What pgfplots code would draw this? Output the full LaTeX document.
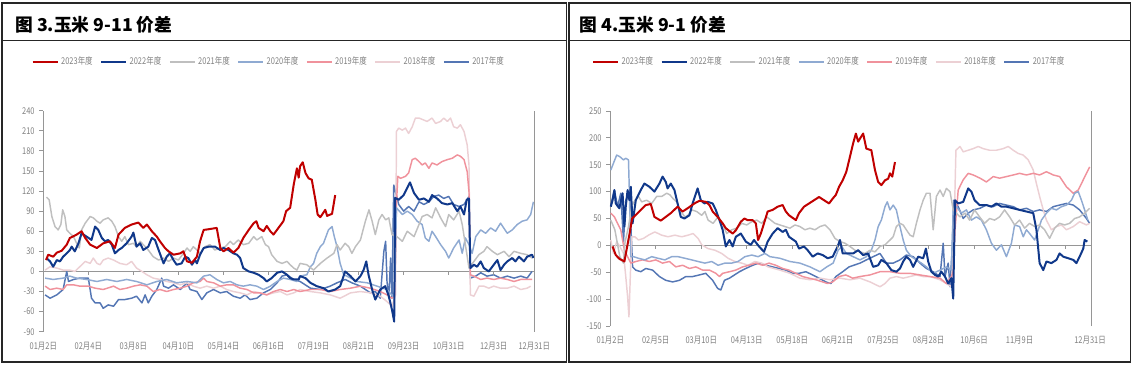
\documentclass[border=0pt]{standalone}
\usepackage{pgfplots}
\pgfplotsset{compat=1.18}
\usepackage{fontspec}
\setmainfont{Noto Sans CJK SC}
\newfontfamily\tickfont{Noto Sans CJK SC}[FakeStretch=0.8]
\definecolor{c23}{RGB}{192,0,0}
\definecolor{c22}{RGB}{16,56,138}
\definecolor{c21}{RGB}{191,191,191}
\definecolor{c20}{RGB}{143,170,210}
\definecolor{c19}{RGB}{240,146,156}
\definecolor{c18}{RGB}{236,208,212}
\definecolor{c17}{RGB}{84,118,180}
\definecolor{axgray}{RGB}{150,150,150}
\definecolor{txtgray}{RGB}{128,128,128}
\pgfplotsset{
  s23/.style={color=c23, line width=1.5pt, line join=round},
  s22/.style={color=c22, line width=1.5pt, line join=round},
  s21/.style={color=c21, line width=1.1pt, line join=round},
  s20/.style={color=c20, line width=1.1pt, line join=round},
  s19/.style={color=c19, line width=1.1pt, line join=round},
  s18/.style={color=c18, line width=1.1pt, line join=round},
  s17/.style={color=c17, line width=1.1pt, line join=round},
  panel/.style={
    anchor=south west, scale only axis,
    axis x line*=bottom, axis y line*=left,
    x axis line style={draw=none}, xtick style={draw=none},
    y axis line style={axgray, line width=0.6pt},
    ytick style={axgray, line width=0.6pt},
    tick align=outside, major tick length=3pt,
    /pgf/number format/assume math mode=true,
    tick label style={font=\tickfont\fontsize{7pt}{8pt}\selectfont, text=txtgray},
    xticklabel style={anchor=center, yshift=-8pt},
    extra y ticks={0}, extra y tick labels={},
    extra y tick style={grid=major, major grid style={axgray, line width=0.7pt}},
    legend columns=7, reverse legend,
    legend style={draw=none, fill=none, font=\tickfont\fontsize{7pt}{8pt}\selectfont, text=txtgray,
      anchor=center, /tikz/every even column/.append style={column sep=3.8pt},
      nodes={inner sep=1.5pt}},
    legend image code/.code={\draw[#1, line width=2.2pt] (0pt,0pt) -- (18.75pt,0pt);},
    clip=false,
  },
}
\begin{document}
\begin{tikzpicture}[x=0.75pt, y=0.75pt]
\useasboundingbox (0,0) rectangle (1133,365);
% frames
\draw[line width=1pt, black!85] (2,3) rectangle (566.5,362);
\draw[line width=1pt, black!85] (2,324.3) -- (566.5,324.3);
\draw[line width=1pt, black!85] (569,3) rectangle (1130.5,362);
\draw[line width=1pt, black!85] (569,324.3) -- (1130.5,324.3);
\node[anchor=west, font=\bfseries\fontsize{13.3pt}{15pt}\selectfont, inner sep=0pt] at (15,340) {图 3.玉米 9-11 价差};
\node[anchor=west, font=\bfseries\fontsize{13.3pt}{15pt}\selectfont, inner sep=0pt] at (579.5,340) {图 4.玉米 9-1 价差};

% ================= LEFT =================
\begin{axis}[panel,
  at={(32.475pt,24.975pt)}, width=368.25pt, height=165.75pt,
  xmin=0, xmax=10.9, ymin=-90, ymax=240,
  ytick={-90,-60,...,240},
  xtick={0,1,2,3,4,5,6,7,8,9,10,10.9},
  xticklabels={01月2日,02月4日,03月8日,04月10日,05月14日,06月16日,07月19日,08月21日,09月23日,10月31日,12月3日,12月31日},
  legend style={at={(0.4587,1.2204)}},
]
\addplot[s17] coordinates {(0.04,-35)(0.15,-40)(0.30,-35)(0.44,-27)(0.52,0)(0.56,-15)(0.67,-12)(0.81,-10)(1.00,-10)(1.07,-40)(1.15,-47)(1.26,-47)(1.33,-55)(1.44,-50)(1.56,-52)(1.67,-42)(1.81,-42)(1.96,-40)(2.07,-37)(2.19,-47)(2.26,-35)(2.33,-47)(2.41,-37)(2.52,-27)(2.63,-10)(2.67,-22)(2.78,-25)(2.89,-20)(3.04,-27)(3.19,-17)(3.26,-27)(3.41,-30)(3.52,-42)(3.63,-32)(3.78,-27)(3.93,-32)(4.07,-30)(4.22,-37)(4.37,-40)(4.48,-35)(4.59,-42)(4.74,-40)(4.89,-32)(5.04,-27)(5.19,-17)(5.30,-7)(5.41,-5)(5.56,-12)(5.70,-15)(5.93,-25)(6.15,-27)(6.37,-22)(6.52,-17)(6.70,-12)(6.85,-17)(7.04,-22)(7.15,-27)(7.26,-32)(7.37,-30)(7.48,-40)(7.56,30)(7.60,45)(7.63,-15)(7.67,-40)(7.71,20)(7.74,-40)(7.78,129)(7.89,100)(8.00,90)(8.11,97)(8.23,90)(8.34,104)(8.45,100)(8.56,104)(8.67,112)(8.78,114)(8.89,109)(9.00,112)(9.11,100)(9.23,97)(9.34,100)(9.45,112)(9.48,-10)(9.60,-7)(9.71,-2)(9.85,-7)(10.00,-5)(10.15,-10)(10.30,-7)(10.45,-10)(10.60,-7)(10.74,-10)(10.85,0)};
\addlegendentry{2017年度}
\addplot[s18] coordinates {(0.04,2)(0.15,7)(0.30,5)(0.44,2)(0.59,2)(0.70,0)(0.81,7)(0.93,15)(1.04,12)(1.11,20)(1.19,12)(1.26,10)(1.33,17)(1.44,20)(1.56,17)(1.70,12)(1.85,10)(1.96,15)(2.07,5)(2.19,0)(2.30,-5)(2.44,-10)(2.59,-12)(2.74,-15)(2.89,-17)(3.04,-20)(3.19,-17)(3.33,-22)(3.48,-25)(3.63,-22)(3.78,-25)(3.93,-22)(4.07,-27)(4.22,-30)(4.37,-32)(4.52,-35)(4.67,-30)(4.81,-32)(4.96,-35)(5.11,-32)(5.26,-30)(5.41,-35)(5.56,-32)(5.70,-27)(5.93,-30)(6.15,-32)(6.37,-35)(6.59,-40)(6.82,-32)(7.04,-30)(7.26,-32)(7.48,-37)(7.63,-45)(7.74,-52)(7.82,-35)(7.84,209)(7.89,214)(7.97,211)(8.04,214)(8.11,206)(8.19,216)(8.26,229)(8.34,229)(8.45,226)(8.52,224)(8.63,229)(8.71,221)(8.82,224)(8.89,229)(8.97,224)(9.04,229)(9.11,216)(9.19,214)(9.26,219)(9.34,209)(9.41,189)(9.45,159)(9.48,-35)(9.56,-37)(9.67,-22)(9.78,-22)(9.89,-25)(10.00,-22)(10.15,-25)(10.30,-25)(10.45,-22)(10.60,-27)(10.74,-25)(10.82,-22)};
\addlegendentry{2018年度}
\addplot[s19] coordinates {(0.04,-22)(0.15,-27)(0.30,-25)(0.44,-27)(0.52,-20)(0.67,-20)(0.81,-22)(1.00,-22)(1.15,-25)(1.33,-27)(1.56,-22)(1.70,-27)(1.85,-25)(2.00,-22)(2.15,-20)(2.30,-22)(2.44,-30)(2.59,-27)(2.74,-30)(2.89,-27)(3.04,-25)(3.19,-22)(3.33,-17)(3.48,-15)(3.56,-10)(3.63,-15)(3.78,-17)(3.93,-22)(4.07,-20)(4.22,-20)(4.37,-25)(4.52,-27)(4.67,-32)(4.81,-32)(4.96,-35)(5.11,-30)(5.26,-27)(5.41,-30)(5.56,-27)(5.70,-30)(5.93,-27)(6.15,-27)(6.37,-30)(6.59,-27)(6.82,-25)(7.04,-22)(7.26,-25)(7.48,-30)(7.63,-35)(7.74,-40)(7.80,-35)(7.84,100)(7.87,142)(7.93,139)(8.04,142)(8.11,147)(8.19,167)(8.26,169)(8.34,164)(8.41,159)(8.48,162)(8.56,154)(8.63,162)(8.74,159)(8.85,164)(8.97,167)(9.08,169)(9.19,174)(9.26,172)(9.34,167)(9.41,149)(9.45,119)(9.48,-5)(9.56,-7)(9.71,-12)(9.85,-10)(10.00,-12)(10.15,-10)(10.30,-12)(10.45,-15)(10.60,-12)(10.74,-12)(10.85,-12)};
\addlegendentry{2019年度}
\addplot[s20] coordinates {(0.04,-10)(0.22,-12)(0.44,-10)(0.59,-7)(0.74,-10)(0.96,-12)(1.19,-15)(1.41,-12)(1.63,-15)(1.85,-12)(2.07,-15)(2.30,-20)(2.52,-15)(2.74,-12)(2.96,-17)(3.19,-15)(3.41,-17)(3.56,-7)(3.70,-5)(3.85,-12)(4.00,-17)(4.15,-15)(4.30,-20)(4.44,-22)(4.59,-20)(4.74,-22)(4.89,-27)(5.04,-22)(5.19,-15)(5.33,-10)(5.48,-12)(5.63,-15)(5.70,-7)(5.85,-5)(5.93,7)(6.00,12)(6.07,27)(6.15,37)(6.22,42)(6.33,62)(6.41,67)(6.46,52)(6.52,37)(6.59,12)(6.67,-5)(6.74,-7)(6.96,-15)(7.19,-17)(7.41,-22)(7.63,-27)(7.76,-37)(7.80,-30)(7.84,95)(7.97,85)(8.08,90)(8.19,85)(8.30,75)(8.41,70)(8.48,50)(8.56,45)(8.63,60)(8.71,52)(8.82,40)(8.93,30)(9.00,20)(9.11,35)(9.23,47)(9.30,27)(9.37,50)(9.45,40)(9.52,27)(9.60,52)(9.71,62)(9.82,57)(9.93,65)(10.04,60)(10.15,72)(10.30,57)(10.41,62)(10.52,70)(10.63,75)(10.74,77)(10.82,85)(10.88,104)};
\addlegendentry{2020年度}
\addplot[s21] coordinates {(0.07,111)(0.13,107)(0.19,82)(0.26,67)(0.33,62)(0.39,70)(0.43,92)(0.48,82)(0.52,62)(0.59,57)(0.67,52)(0.74,42)(0.80,35)(0.85,62)(0.93,72)(1.04,82)(1.11,80)(1.19,75)(1.26,72)(1.33,77)(1.44,80)(1.52,75)(1.59,67)(1.67,52)(1.74,45)(1.81,52)(1.89,40)(2.00,42)(2.07,37)(2.15,45)(2.22,40)(2.33,32)(2.44,22)(2.56,17)(2.67,20)(2.78,15)(2.89,20)(3.00,17)(3.11,27)(3.19,35)(3.26,30)(3.33,37)(3.41,32)(3.48,27)(3.59,37)(3.70,40)(3.81,32)(3.93,35)(4.04,37)(4.15,45)(4.22,40)(4.33,47)(4.44,40)(4.56,42)(4.67,52)(4.74,47)(4.85,52)(4.93,40)(5.00,37)(5.07,25)(5.19,15)(5.30,12)(5.41,15)(5.48,10)(5.56,5)(5.63,2)(5.70,12)(5.85,10)(6.00,2)(6.15,12)(6.30,20)(6.45,27)(6.52,40)(6.59,32)(6.70,42)(6.78,37)(6.85,27)(6.93,37)(7.04,47)(7.15,75)(7.23,92)(7.30,75)(7.37,55)(7.45,77)(7.52,85)(7.60,77)(7.67,80)(7.74,55)(7.85,52)(7.97,45)(8.08,60)(8.23,52)(8.34,70)(8.41,82)(8.52,85)(8.63,80)(8.71,95)(8.82,80)(8.93,67)(9.00,85)(9.11,77)(9.23,90)(9.30,70)(9.37,40)(9.45,5)(9.56,15)(9.67,25)(9.78,30)(9.85,37)(9.97,30)(10.08,25)(10.23,30)(10.34,22)(10.45,30)(10.60,27)(10.74,25)(10.85,20)};
\addlegendentry{2021年度}
\addplot[s22] coordinates {(0.07,20)(0.15,15)(0.22,7)(0.30,17)(0.37,15)(0.44,22)(0.52,27)(0.59,32)(0.63,37)(0.70,30)(0.78,42)(0.85,57)(0.96,52)(1.07,47)(1.15,67)(1.22,62)(1.30,50)(1.37,45)(1.44,47)(1.52,40)(1.59,27)(1.67,32)(1.74,35)(1.85,42)(1.96,52)(2.00,58)(2.07,37)(2.15,42)(2.22,32)(2.33,37)(2.41,50)(2.48,47)(2.56,32)(2.67,12)(2.74,22)(2.81,27)(2.89,17)(2.96,10)(3.07,12)(3.15,22)(3.22,20)(3.30,10)(3.37,17)(3.41,12)(3.48,25)(3.56,35)(3.67,37)(3.81,37)(3.93,32)(4.00,35)(4.11,32)(4.22,27)(4.30,25)(4.37,20)(4.44,5)(4.56,0)(4.67,-2)(4.78,-5)(4.89,-10)(4.96,-15)(5.07,-10)(5.19,-2)(5.30,0)(5.41,-5)(5.48,-10)(5.56,-12)(5.67,-12)(5.70,-7)(5.82,-10)(5.93,-17)(6.07,-22)(6.22,-25)(6.33,-30)(6.48,-27)(6.59,-22)(6.70,0)(6.82,-7)(6.93,-15)(7.04,-7)(7.11,2)(7.17,15)(7.22,-5)(7.30,-27)(7.37,-42)(7.48,-27)(7.59,-22)(7.67,-37)(7.74,-57)(7.79,-75)(7.81,110)(7.89,107)(8.00,114)(8.14,133)(8.23,117)(8.34,107)(8.45,109)(8.56,104)(8.63,114)(8.74,109)(8.85,102)(8.97,100)(9.08,102)(9.19,90)(9.26,97)(9.34,85)(9.40,107)(9.45,109)(9.48,5)(9.56,10)(9.63,7)(9.71,15)(9.78,5)(9.89,0)(10.00,10)(10.08,17)(10.15,2)(10.23,10)(10.30,15)(10.41,20)(10.48,15)(10.56,22)(10.67,15)(10.74,22)(10.85,25)(10.88,20)};
\addlegendentry{2022年度}
\addplot[s23] coordinates {(0.06,17)(0.11,25)(0.22,22)(0.30,28)(0.41,31)(0.52,40)(0.59,50)(0.74,55)(0.85,60)(0.93,50)(1.04,40)(1.19,35)(1.33,42)(1.48,45)(1.59,35)(1.67,55)(1.81,65)(1.96,70)(2.11,73)(2.22,65)(2.30,70)(2.41,60)(2.52,52)(2.59,45)(2.70,35)(2.78,30)(2.89,25)(3.04,27)(3.11,30)(3.19,15)(3.30,13)(3.41,22)(3.48,45)(3.56,62)(3.67,63)(3.85,65)(3.93,35)(4.00,30)(4.11,35)(4.22,28)(4.33,35)(4.44,50)(4.56,62)(4.67,72)(4.73,75)(4.78,65)(4.89,60)(4.96,68)(5.04,60)(5.11,55)(5.22,65)(5.33,75)(5.39,90)(5.48,95)(5.56,130)(5.63,154)(5.67,140)(5.70,157)(5.76,163)(5.82,147)(5.89,139)(5.96,137)(6.04,107)(6.09,85)(6.15,81)(6.26,92)(6.30,83)(6.41,86)(6.48,114)};
\addlegendentry{2023年度}
\draw[axgray, line width=0.6pt] (rel axis cs:1,0) -- (rel axis cs:1,1);
\draw[axgray, line width=0.6pt] (axis cs:1,0) -- ++(0pt,-3pt);
\draw[axgray, line width=0.6pt] (axis cs:2,0) -- ++(0pt,-3pt);
\draw[axgray, line width=0.6pt] (axis cs:3,0) -- ++(0pt,-3pt);
\draw[axgray, line width=0.6pt] (axis cs:4,0) -- ++(0pt,-3pt);
\draw[axgray, line width=0.6pt] (axis cs:5,0) -- ++(0pt,-3pt);
\draw[axgray, line width=0.6pt] (axis cs:6,0) -- ++(0pt,-3pt);
\draw[axgray, line width=0.6pt] (axis cs:7,0) -- ++(0pt,-3pt);
\draw[axgray, line width=0.6pt] (axis cs:8,0) -- ++(0pt,-3pt);
\draw[axgray, line width=0.6pt] (axis cs:9,0) -- ++(0pt,-3pt);
\draw[axgray, line width=0.6pt] (axis cs:10,0) -- ++(0pt,-3pt);
\end{axis}

% ================= RIGHT =================
\begin{axis}[panel,
  at={(457.725pt,29.25pt)}, width=360.525pt, height=161.25pt,
  xmin=0, xmax=10.57, ymin=-150, ymax=250,
  ytick={-150,-100,...,250},
  xtick={0,1,2,3,4,5,6,7,8,9,10.55},
  xticklabels={01月2日,02月5日,03月10日,04月13日,05月18日,06月21日,07月25日,08月28日,10月6日,11月9日,12月31日},
  legend style={at={(0.455,1.228)}},
]
\addplot[s17] coordinates {(0.01,75)(0.09,103)(0.16,72)(0.23,97)(0.29,7)(0.34,84)(0.42,97)(0.45,41)(0.49,-40)(0.56,-46)(0.67,-49)(0.78,-43)(0.93,-46)(1.08,-58)(1.22,-65)(1.37,-68)(1.52,-65)(1.66,-58)(1.81,-58)(1.96,-55)(2.10,-52)(2.25,-65)(2.36,-80)(2.43,-83)(2.51,-65)(2.62,-61)(2.73,-55)(2.84,-49)(2.98,-43)(3.13,-37)(3.27,-33)(3.42,-37)(3.57,-40)(3.71,-43)(3.86,-46)(4.01,-52)(4.15,-52)(4.30,-49)(4.45,-55)(4.59,-61)(4.74,-68)(4.85,-71)(4.96,-58)(5.11,-49)(5.25,-40)(5.49,-33)(5.63,-27)(5.78,-21)(5.93,-15)(6.07,-33)(6.22,-33)(6.37,-27)(6.51,-18)(6.66,-21)(6.81,-33)(6.95,-43)(7.10,-49)(7.25,-58)(7.32,4)(7.36,-58)(7.43,-33)(7.47,-77)(7.52,-2)(7.55,84)(7.65,72)(7.76,50)(7.87,60)(7.98,66)(8.13,69)(8.27,75)(8.42,72)(8.56,78)(8.71,75)(8.86,72)(9.00,66)(9.15,69)(9.30,63)(9.44,66)(9.59,63)(9.74,72)(9.88,75)(10.03,78)(10.18,75)(10.32,66)(10.47,50)(10.54,41)};
\addlegendentry{2017年度}
\addplot[s18] coordinates {(0.01,10)(0.07,-15)(0.14,7)(0.21,-2)(0.29,-15)(0.34,-58)(0.38,-95)(0.41,-133)(0.44,-58)(0.47,16)(0.54,16)(0.62,10)(0.73,13)(0.84,19)(0.98,25)(1.13,19)(1.27,16)(1.42,19)(1.57,16)(1.71,19)(1.82,22)(1.93,13)(2.01,1)(2.15,-6)(2.30,-9)(2.45,-15)(2.59,-24)(2.74,-30)(2.89,-33)(3.03,-37)(3.18,-30)(3.33,-33)(3.47,-40)(3.73,-46)(3.95,-52)(4.17,-61)(4.39,-64)(4.61,-61)(4.83,-64)(5.05,-61)(5.27,-64)(5.49,-61)(5.71,-68)(5.93,-77)(6.04,-71)(6.15,-61)(6.29,-58)(6.44,-61)(6.59,-58)(6.73,-55)(6.88,-58)(7.03,-58)(7.25,-64)(7.39,-71)(7.50,-77)(7.56,35)(7.60,177)(7.69,184)(7.76,174)(7.87,177)(7.98,180)(8.09,184)(8.20,180)(8.34,177)(8.49,177)(8.64,180)(8.75,184)(8.86,177)(8.97,171)(9.08,168)(9.19,159)(9.30,140)(9.37,115)(9.44,91)(9.52,66)(9.59,47)(9.70,29)(9.81,35)(9.92,38)(10.03,29)(10.18,35)(10.32,44)(10.47,38)(10.54,41)};
\addlegendentry{2018年度}
\addplot[s19] coordinates {(0.01,60)(0.09,53)(0.16,41)(0.23,29)(0.31,-9)(0.38,-21)(0.45,-33)(0.56,-30)(0.71,-27)(0.86,-30)(1.00,-27)(1.15,-33)(1.30,-30)(1.44,-40)(1.59,-37)(1.74,-43)(1.88,-40)(2.03,-46)(2.18,-46)(2.32,-52)(2.40,-58)(2.47,-52)(2.62,-49)(2.76,-46)(2.91,-40)(3.05,-37)(3.20,-33)(3.35,-37)(3.49,-33)(3.64,-37)(3.79,-43)(3.93,-46)(4.08,-52)(4.23,-58)(4.37,-61)(4.52,-64)(4.67,-68)(4.78,-71)(4.89,-68)(5.03,-58)(5.18,-55)(5.33,-61)(5.49,-58)(5.71,-55)(5.93,-49)(6.15,-49)(6.37,-52)(6.59,-52)(6.81,-55)(7.03,-58)(7.25,-61)(7.39,-71)(7.50,-58)(7.54,-49)(7.58,29)(7.65,103)(7.76,122)(7.87,134)(7.98,131)(8.13,125)(8.27,118)(8.42,128)(8.56,125)(8.71,128)(8.86,131)(9.00,134)(9.15,131)(9.30,134)(9.44,131)(9.59,137)(9.74,131)(9.88,128)(10.03,109)(10.18,97)(10.29,103)(10.40,122)(10.47,134)(10.54,146)};
\addlegendentry{2019年度}
\addplot[s20] coordinates {(0.01,140)(0.07,153)(0.14,168)(0.21,165)(0.29,159)(0.34,162)(0.40,159)(0.42,97)(0.45,-21)(0.51,-21)(0.62,-24)(0.76,-27)(0.91,-21)(1.05,-24)(1.20,-27)(1.35,-21)(1.49,-21)(1.64,-24)(1.79,-27)(1.93,-30)(2.08,-33)(2.23,-30)(2.37,-37)(2.52,-33)(2.67,-33)(2.81,-30)(2.96,-21)(3.11,-18)(3.25,-21)(3.40,-15)(3.51,-21)(3.73,-24)(3.95,-30)(4.17,-33)(4.39,-40)(4.61,-49)(4.76,-40)(4.90,-33)(5.01,-9)(5.09,-2)(5.19,-15)(5.34,-21)(5.49,-27)(5.63,-21)(5.74,-9)(5.82,10)(5.89,35)(5.96,47)(6.04,72)(6.09,81)(6.15,66)(6.22,75)(6.29,66)(6.37,35)(6.44,10)(6.51,-9)(6.62,-21)(6.73,-27)(6.84,-33)(6.95,-40)(7.10,-52)(7.25,-46)(7.39,-40)(7.50,-46)(7.54,66)(7.61,72)(7.72,60)(7.83,66)(7.94,47)(8.05,53)(8.16,47)(8.27,29)(8.38,4)(8.49,-9)(8.60,1)(8.71,-21)(8.82,4)(8.89,38)(9.00,35)(9.08,16)(9.15,29)(9.22,22)(9.33,10)(9.41,29)(9.48,47)(9.59,60)(9.70,69)(9.81,66)(9.92,72)(10.03,75)(10.14,84)(10.21,97)(10.29,100)(10.36,84)(10.43,66)(10.50,47)};
\addlegendentry{2020年度}
\addplot[s21] coordinates {(0.01,47)(0.10,29)(0.21,-21)(0.29,-33)(0.32,4)(0.40,35)(0.47,72)(0.54,84)(0.62,91)(0.69,81)(0.80,84)(0.91,78)(1.02,91)(1.13,91)(1.24,97)(1.31,94)(1.38,87)(1.46,81)(1.53,66)(1.64,53)(1.71,56)(1.79,66)(1.90,63)(2.01,56)(2.08,63)(2.15,47)(2.26,41)(2.37,53)(2.48,38)(2.56,22)(2.67,29)(2.78,32)(2.89,41)(3.00,38)(3.11,44)(3.22,47)(3.33,41)(3.44,53)(3.62,41)(3.73,38)(3.84,35)(3.95,32)(4.06,38)(4.17,35)(4.28,29)(4.39,32)(4.50,29)(4.61,35)(4.72,38)(4.83,29)(4.94,13)(5.05,7)(5.16,4)(5.27,-2)(5.38,-9)(5.49,-12)(5.60,-15)(5.71,-9)(5.82,-12)(5.93,-2)(6.04,1)(6.15,10)(6.22,16)(6.29,35)(6.37,41)(6.44,38)(6.51,29)(6.59,19)(6.66,16)(6.73,41)(6.81,66)(6.88,84)(6.95,97)(7.03,97)(7.10,29)(7.17,91)(7.25,103)(7.32,91)(7.39,106)(7.47,100)(7.54,66)(7.69,53)(7.80,60)(7.90,47)(8.01,66)(8.12,53)(8.23,41)(8.34,50)(8.45,47)(8.56,53)(8.67,66)(8.78,53)(8.89,38)(9.00,47)(9.11,32)(9.22,41)(9.33,35)(9.44,38)(9.55,29)(9.66,13)(9.77,32)(9.88,41)(9.99,38)(10.10,41)(10.21,50)(10.32,53)(10.43,60)(10.54,69)};
\addlegendentry{2021年度}
\addplot[s22] coordinates {(0.01,72)(0.05,84)(0.09,103)(0.12,78)(0.20,69)(0.27,97)(0.31,35)(0.34,72)(0.38,103)(0.42,84)(0.45,109)(0.49,41)(0.56,84)(0.67,103)(0.75,115)(0.86,109)(0.97,100)(1.08,115)(1.15,128)(1.22,118)(1.26,106)(1.33,115)(1.41,103)(1.48,78)(1.55,53)(1.63,50)(1.74,56)(1.81,78)(1.92,106)(1.99,84)(2.07,78)(2.14,81)(2.25,78)(2.32,66)(2.40,47)(2.47,29)(2.54,-2)(2.62,10)(2.69,-2)(2.76,16)(2.87,22)(2.98,7)(3.09,1)(3.16,10)(3.27,-2)(3.38,-12)(3.46,7)(3.57,22)(3.68,32)(3.79,25)(3.86,29)(3.93,16)(4.08,7)(4.15,-6)(4.26,-2)(4.34,-9)(4.45,-21)(4.56,-15)(4.67,-18)(4.78,-24)(4.89,-21)(5.00,-2)(5.05,10)(5.11,-15)(5.34,-15)(5.45,-9)(5.56,-18)(5.67,-15)(5.78,-40)(5.89,-37)(5.96,-27)(6.07,-33)(6.18,-46)(6.29,-49)(6.37,-43)(6.44,-30)(6.51,-21)(6.59,-27)(6.66,-40)(6.77,-21)(6.88,-24)(6.94,-6)(6.99,-30)(7.06,-49)(7.14,-55)(7.21,-58)(7.28,-49)(7.36,-58)(7.43,-71)(7.50,-61)(7.54,-99)(7.58,84)(7.65,78)(7.76,81)(7.87,106)(7.94,100)(8.01,84)(8.12,75)(8.27,75)(8.38,72)(8.49,78)(8.60,72)(8.71,72)(8.86,69)(9.00,66)(9.15,63)(9.30,60)(9.37,29)(9.44,-33)(9.52,-46)(9.59,-30)(9.70,-33)(9.81,-27)(9.88,-15)(9.96,-21)(10.07,-24)(10.18,-27)(10.25,-33)(10.32,-21)(10.40,-6)(10.43,10)(10.49,7)};
\addlegendentry{2022年度}
\addplot[s23] coordinates {(0.05,-2)(0.12,-18)(0.20,-25)(0.31,-30)(0.42,20)(0.48,50)(0.60,60)(0.78,75)(0.89,77)(0.97,53)(1.11,46)(1.22,53)(1.33,60)(1.48,72)(1.59,63)(1.70,69)(1.85,78)(1.96,83)(2.10,81)(2.18,75)(2.25,63)(2.36,53)(2.47,41)(2.54,32)(2.69,22)(2.76,28)(2.87,44)(2.95,50)(3.02,47)(3.13,47)(3.20,41)(3.25,10)(3.31,22)(3.38,41)(3.46,63)(3.57,66)(3.68,72)(3.79,75)(3.86,63)(3.93,56)(4.08,47)(4.15,60)(4.26,72)(4.37,78)(4.48,84)(4.59,90)(4.70,84)(4.81,78)(4.89,87)(4.96,94)(5.03,109)(5.11,121)(5.19,137)(5.27,165)(5.34,190)(5.40,208)(5.45,193)(5.50,200)(5.56,208)(5.63,180)(5.74,177)(5.82,140)(5.89,118)(5.96,112)(6.04,121)(6.11,124)(6.15,134)(6.20,128)(6.26,155)};
\addlegendentry{2023年度}
\draw[axgray, line width=0.6pt] (rel axis cs:1,0) -- (rel axis cs:1,1);
\draw[axgray, line width=0.6pt] (axis cs:1,0) -- ++(0pt,-3pt);
\draw[axgray, line width=0.6pt] (axis cs:2,0) -- ++(0pt,-3pt);
\draw[axgray, line width=0.6pt] (axis cs:3,0) -- ++(0pt,-3pt);
\draw[axgray, line width=0.6pt] (axis cs:4,0) -- ++(0pt,-3pt);
\draw[axgray, line width=0.6pt] (axis cs:5,0) -- ++(0pt,-3pt);
\draw[axgray, line width=0.6pt] (axis cs:6,0) -- ++(0pt,-3pt);
\draw[axgray, line width=0.6pt] (axis cs:7,0) -- ++(0pt,-3pt);
\draw[axgray, line width=0.6pt] (axis cs:8,0) -- ++(0pt,-3pt);
\draw[axgray, line width=0.6pt] (axis cs:9,0) -- ++(0pt,-3pt);
\draw[axgray, line width=0.6pt] (axis cs:10,0) -- ++(0pt,-3pt);
\end{axis}
\end{tikzpicture}
\end{document}
